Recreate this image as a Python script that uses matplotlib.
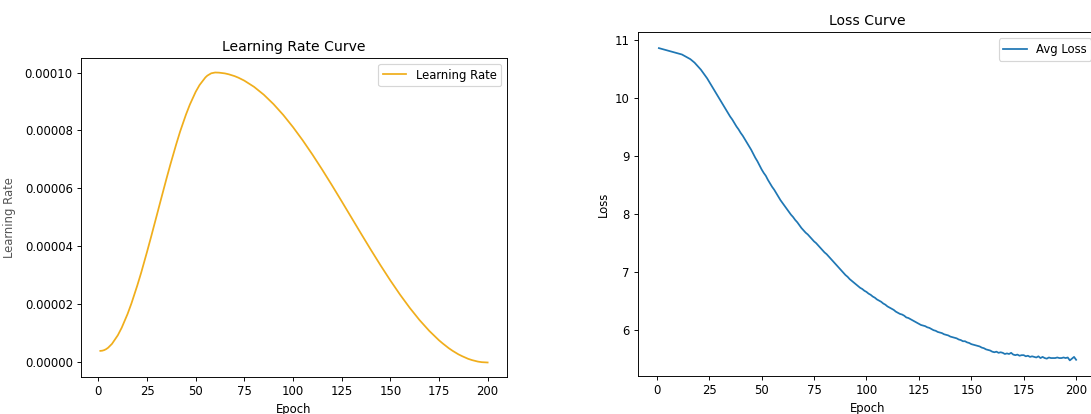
import matplotlib
matplotlib.use("Agg")
import matplotlib.pyplot as plt

# learning rate (epoch, value)
lr_epochs = [1, 2, 3, 4, 5, 7, 10, 12, 15, 17, 20, 22, 25, 27, 30, 32, 35, 37,
             40, 42, 45, 47, 50, 52, 55, 56, 58, 60, 62, 65, 67, 70, 72, 75,
             80, 85, 90, 95, 100, 105, 110, 115, 120, 125, 130, 135, 140, 145,
             150, 155, 160, 165, 170, 175, 177, 180, 182, 185, 187, 190, 192,
             195, 197, 200]
lr_values = [0.400e-5, 0.407e-5, 0.427e-5, 0.461e-5, 0.508e-5, 0.643e-5,
             0.940e-5, 1.200e-5, 1.673e-5, 2.039e-5, 2.656e-5, 3.098e-5,
             3.815e-5, 4.311e-5, 5.072e-5, 5.583e-5, 6.340e-5, 6.829e-5,
             7.526e-5, 7.964e-5, 8.548e-5, 8.893e-5, 9.334e-5, 9.569e-5,
             9.831e-5, 9.893e-5, 9.973e-5, 10.000e-5, 9.995e-5, 9.969e-5,
             9.938e-5, 9.875e-5, 9.820e-5, 9.719e-5, 9.505e-5, 9.234e-5,
             8.909e-5, 8.536e-5, 8.117e-5, 7.660e-5, 7.169e-5, 6.651e-5,
             6.113e-5, 5.560e-5, 5.000e-5, 4.440e-5, 3.887e-5, 3.349e-5,
             2.831e-5, 2.340e-5, 1.883e-5, 1.464e-5, 1.091e-5, 0.766e-5,
             0.653e-5, 0.495e-5, 0.403e-5, 0.281e-5, 0.215e-5, 0.126e-5,
             0.082e-5, 0.031e-5, 0.011e-5, 0.000e-5]

# average loss per epoch, right panel
loss_epochs = list(range(1, 201))
avg_loss = [
    10.86, 10.85, 10.84, 10.83, 10.82, 10.81, 10.80, 10.79, 10.78, 10.77,
    10.76, 10.75, 10.73, 10.71, 10.69, 10.67, 10.64, 10.61, 10.57, 10.53,
    10.49, 10.44, 10.39, 10.34, 10.28, 10.22, 10.16, 10.10, 10.04, 9.98,
    9.92, 9.86, 9.80, 9.74, 9.68, 9.63, 9.57, 9.51, 9.46, 9.40,
    9.35, 9.29, 9.23, 9.17, 9.11, 9.04, 8.97, 8.91, 8.84, 8.77,
    8.71, 8.66, 8.59, 8.53, 8.47, 8.42, 8.36, 8.30, 8.24, 8.19,
    8.14, 8.09, 8.04, 7.99, 7.95, 7.90, 7.86, 7.81, 7.76, 7.72,
    7.68, 7.65, 7.61, 7.57, 7.53, 7.50, 7.46, 7.42, 7.38, 7.34,
    7.31, 7.27, 7.23, 7.19, 7.15, 7.11, 7.07, 7.03, 6.99, 6.95,
    6.92, 6.88, 6.85, 6.82, 6.79, 6.76, 6.73, 6.71, 6.68, 6.66,
    6.63, 6.61, 6.58, 6.56, 6.53, 6.51, 6.49, 6.46, 6.44, 6.41,
    6.39, 6.37, 6.35, 6.32, 6.30, 6.28, 6.27, 6.25, 6.22, 6.21,
    6.19, 6.17, 6.15, 6.13, 6.11, 6.09, 6.08, 6.07, 6.05, 6.04,
    6.02, 6.00, 5.99, 5.97, 5.96, 5.95, 5.93, 5.92, 5.91, 5.89,
    5.88, 5.87, 5.86, 5.84, 5.83, 5.81, 5.81, 5.79, 5.78, 5.76,
    5.75, 5.74, 5.73, 5.72, 5.70, 5.69, 5.67, 5.66, 5.65, 5.63,
    5.62, 5.63, 5.61, 5.62, 5.61, 5.59, 5.60, 5.59, 5.61, 5.58,
    5.57, 5.58, 5.56, 5.57, 5.57, 5.55, 5.56, 5.54, 5.55, 5.54,
    5.53, 5.55, 5.52, 5.54, 5.52, 5.51, 5.53, 5.52, 5.52, 5.52,
    5.53, 5.52, 5.52, 5.53, 5.52, 5.53, 5.48, 5.51, 5.54, 5.49,
]

DPI = 84
fig = plt.figure(figsize=(1091 / DPI, 414 / DPI), dpi=DPI)

## ---- learning rate ----
ax1 = fig.add_axes([0.0742, 0.0894, 0.3905, 0.7705])
ax1.plot(lr_epochs, lr_values, color="#f0ae1c", label="Learning Rate")
ax1.set_title("Learning Rate Curve")
ax1.set_xlabel("Epoch")
ax1.set_ylabel("Learning Rate", color="#555555")
ax1.yaxis.set_label_coords(-0.152, 0.5)
ax1.set_xticks(range(0, 201, 25))
ax1.legend(loc="upper right")

## ---- loss (axes runs past the right edge, like the screenshot) ----
ax2 = fig.add_axes([0.5848, 0.0918, 0.4207, 0.8297])
ax2.plot(loss_epochs, avg_loss, color="tab:blue", label="Avg Loss")
ax2.set_title("Loss Curve")
ax2.set_xlabel("Epoch")
ax2.set_ylabel("Loss")
ax2.set_xticks(range(0, 201, 25))
ax2.legend(loc="upper right")

fig.savefig("out.png", dpi=DPI)
